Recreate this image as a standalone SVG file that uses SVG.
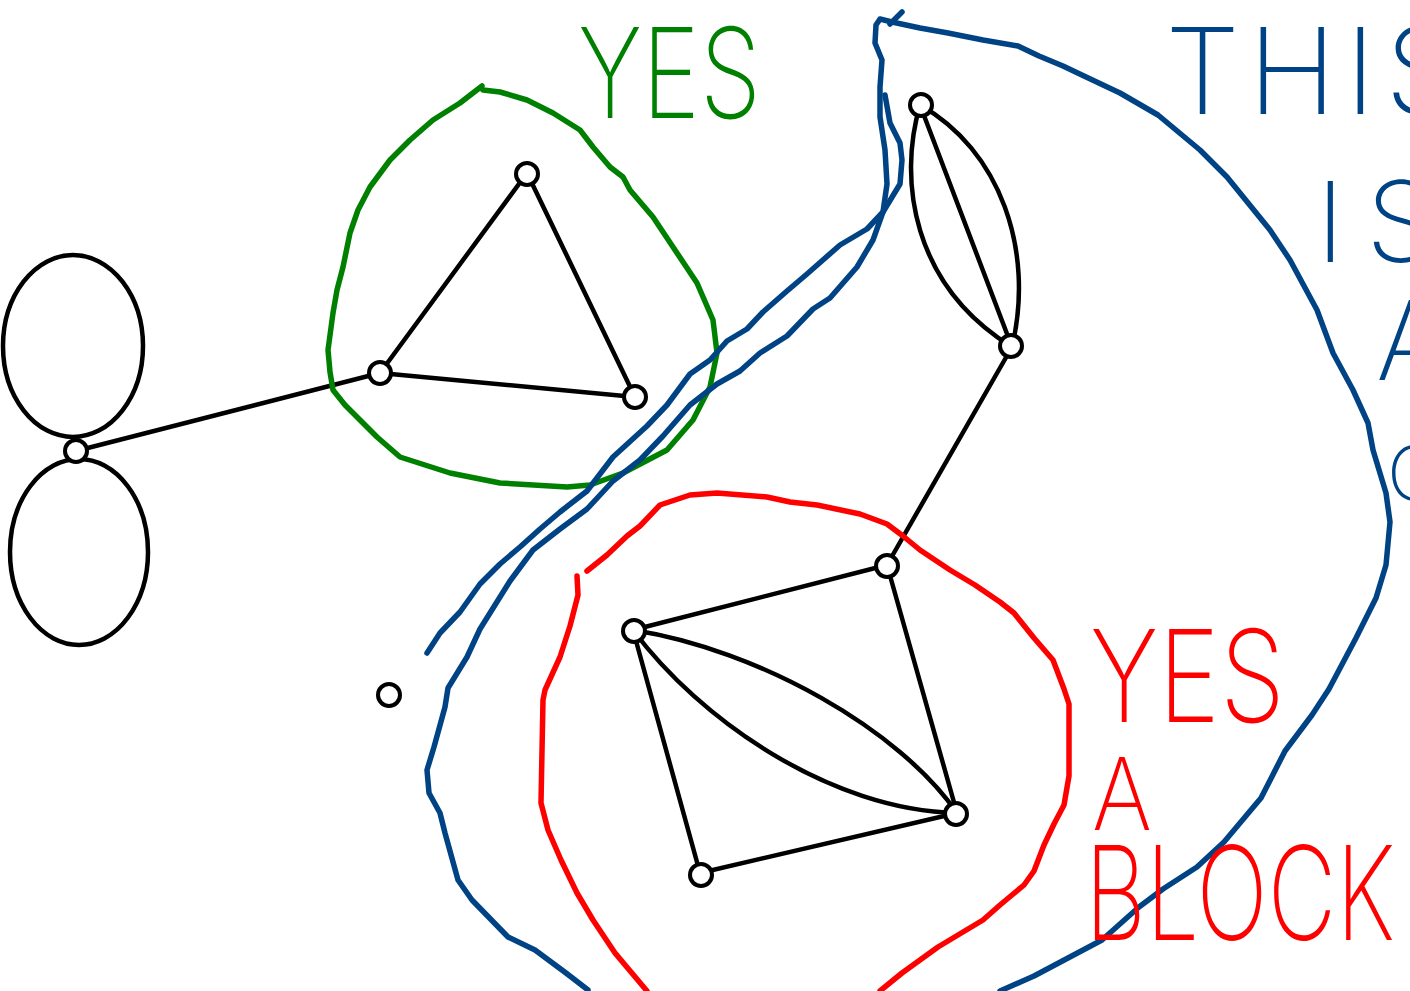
<svg xmlns="http://www.w3.org/2000/svg" width="1410" height="991" viewBox="0 0 1410 991">
<defs>
<style>
.e{fill:none;stroke:#000;stroke-width:4.5;stroke-linecap:round;stroke-linejoin:round}
.n{fill:#fff;stroke:#000;stroke-width:4}
.g{fill:none;stroke:#008000;stroke-width:5.5;stroke-linecap:round;stroke-linejoin:round}
.b{fill:none;stroke:#004385;stroke-width:5.5;stroke-linecap:round;stroke-linejoin:round}
.r{fill:none;stroke:#ff0000;stroke-width:5.5;stroke-linecap:round;stroke-linejoin:round}
.t{font-family:Inter,"Liberation Sans",sans-serif;font-weight:200}
.tg{fill:#008000}.tb{fill:#004385}.tr{fill:#ff0000}
</style>
</defs>
<rect width="1410" height="991" fill="#fff"/>

<g id="connectors">
<ellipse class="e" cx="73" cy="346" rx="70" ry="91"/>
<ellipse class="e" cx="79" cy="552" rx="69" ry="93"/>
<line class="e" x1="76" y1="451" x2="380" y2="373"/>
<line class="e" x1="380" y1="373" x2="527" y2="173"/>
<line class="e" x1="527" y1="173" x2="635" y2="397"/>
<line class="e" x1="380" y1="373" x2="635" y2="397"/>
<line class="e" x1="920" y1="105" x2="1012" y2="347"/>
<path class="e" d="M920,105 C898,180 912,285 1012,347"/>
<path class="e" d="M920,105 C1000,150 1035,250 1012,347"/>
<line class="e" x1="1012" y1="347" x2="887" y2="565"/>
<line class="e" x1="887" y1="565" x2="633" y2="630"/>
<line class="e" x1="887" y1="565" x2="957" y2="813"/>
<line class="e" x1="633" y1="630" x2="700" y2="873"/>
<line class="e" x1="700" y1="873" x2="957" y2="813"/>
<path class="e" d="M633,630 C760,650 900,730 957,813"/>
<path class="e" d="M633,630 C700,720 830,810 957,813"/>
</g>

<g id="node-hub"><circle class="n" cx="76" cy="451" r="11"/></g>
<g id="node-t1"><circle class="n" cx="527" cy="174" r="11"/></g>
<g id="node-t2"><circle class="n" cx="380" cy="373" r="11"/></g>
<g id="node-t3"><circle class="n" cx="635" cy="397" r="11"/></g>
<g id="node-iso"><circle class="n" cx="389" cy="695" r="11"/></g>
<g id="node-l1"><circle class="n" cx="921" cy="105" r="11"/></g>
<g id="node-l2"><circle class="n" cx="1011" cy="346" r="11"/></g>
<g id="node-q1"><circle class="n" cx="887" cy="566" r="11"/></g>
<g id="node-q2"><circle class="n" cx="634" cy="631" r="11"/></g>
<g id="node-q3"><circle class="n" cx="956" cy="814" r="11"/></g>
<g id="node-q4"><circle class="n" cx="701" cy="875" r="11"/></g>

<g id="green-annotation">
<path class="g" d="M482,86 L460,103 L433,120 L410,140 L390,160 L370,187 L358,210 L350,233 L343,267 L337,290 L333,313 L328,350 L330,372 L333,390 L345,405 L357,417 L377,437 L400,457 L450,473 L500,483 L567,487 L590,485 L623,473 L667,450 L693,420 L710,387 L717,353 L713,320 L697,283 L673,247 L653,217 L630,190 L623,177 L610,167 L593,147 L580,130 L553,113 L527,100 L500,92 L483,90"/>
<text class="t tg" x="578" y="118" font-size="125" textLength="183" lengthAdjust="spacingAndGlyphs">YES</text>
</g>

<g id="blue-annotation">
<path class="b" d="M427,653 L440,633 L460,612 L480,584 L500,564 L520,547 L540,529 L560,512 L587,491 L613,457 L647,426 L667,405 L690,374 L710,360 L727,341 L747,329 L763,312 L787,291 L807,274 L840,245 L867,229 L883,212 L900,184 L902,160 L900,143 L890,123 L885,95"/>
<path class="b" d="M588,990 L566,973 L535,950 L508,937 L472,900 L458,880 L445,833 L440,813 L429,793 L427,770 L434,747 L445,707 L448,688 L467,657 L480,629 L510,581 L533,550 L560,529 L587,509 L613,481 L640,460 L663,436 L690,405 L717,384 L740,371 L760,353 L787,336 L813,309 L830,298 L857,267 L873,240 L883,212 L887,184 L885,150 L880,117 L880,87 L882,60 L875,43 L876,25 L880,19 L892,22 L920,28 L948,33 L983,40 L1018,46 L1039,56 L1063,66 L1084,76 L1120,93 L1158,115 L1200,150 L1227,177 L1270,230 L1290,260 L1317,310 L1333,353 L1353,390 L1368,423 L1373,450 L1386,493 L1390,522 L1386,565 L1376,598 L1356,638 L1329,689 L1312,715 L1285,751 L1261,798 L1224,842 L1197,867 L1163,889 L1139,907 L1102,940 L1068,958 L1034,976 L1000,991"/>
<path class="b" d="M890,24 L902,12"/>
<text class="t tb" x="1165 1248 1345 1385" y="114" font-size="120">THIS</text>
<text class="t tb" x="1316 1366" y="262" font-size="112">IS</text>
<text class="t tb" x="1376" y="380" font-size="110">A</text>
<text class="t tb" x="1387" y="500" font-size="75">C</text>
</g>

<g id="red-annotation">
<path class="r" d="M587,571 L607,555 L627,536 L640,526 L660,505 L690,495 L717,493 L767,497 L790,502 L817,505 L860,514 L887,524 L903,536 L920,550 L950,570 L975,585 L1000,602 L1014,613 L1034,638 L1053,660 L1064,689 L1069,704 L1069,776 L1064,805 L1054,824 L1044,845 L1034,871 L1024,885 L1000,905 L983,920 L938,947 L902,973 L880,991"/>
<path class="r" d="M577,576 L578,595 L570,626 L560,657 L545,690 L543,700 L541,803 L548,830 L561,860 L577,893 L593,920 L615,953 L647,991"/>
<text class="t tr" x="1090" y="722" font-size="128" textLength="195" lengthAdjust="spacingAndGlyphs">YES</text>
<text class="t tr" x="1092" y="830" font-size="100" textLength="60" lengthAdjust="spacingAndGlyphs">A</text>
<text class="t tr" x="1085" y="940" font-size="130" textLength="310" lengthAdjust="spacingAndGlyphs">BLOCK</text>
</g>
</svg>
